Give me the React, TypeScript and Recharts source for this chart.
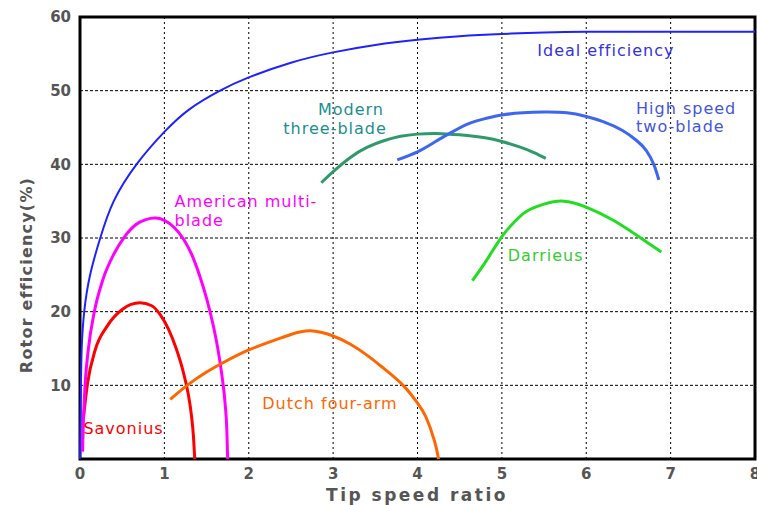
import { LineChart, Line, XAxis, YAxis, CartesianGrid, ReferenceArea, ReferenceDot, Label } from 'recharts'

const X_TICKS = [0, 1, 2, 3, 4, 5, 6, 7, 8]
const Y_TICKS = [10, 20, 30, 40, 50, 60]

const ideal = [
  { x: 0, y: 0 }, { x: 0.01, y: 9 }, { x: 0.02, y: 15 }, { x: 0.05, y: 20 }, { x: 0.12, y: 25 },
  { x: 0.24, y: 30 }, { x: 0.4, y: 35 }, { x: 0.67, y: 40 }, { x: 1, y: 44.4 }, { x: 1.3, y: 47.5 },
  { x: 1.66, y: 50 }, { x: 2, y: 51.8 }, { x: 2.5, y: 53.8 }, { x: 3, y: 55.2 }, { x: 3.5, y: 56.2 },
  { x: 4, y: 56.9 }, { x: 4.5, y: 57.4 }, { x: 5, y: 57.7 }, { x: 5.5, y: 57.9 }, { x: 6, y: 58 },
  { x: 7, y: 58 }, { x: 8, y: 58 },
]

const savonius = [
  { x: 0.04, y: 5.5 }, { x: 0.09, y: 10.3 }, { x: 0.18, y: 14.8 }, { x: 0.32, y: 18 }, { x: 0.5, y: 20.3 },
  { x: 0.71, y: 21.2 }, { x: 0.85, y: 20.8 }, { x: 0.95, y: 19.6 }, { x: 1.05, y: 17.6 }, { x: 1.14, y: 15 },
  { x: 1.22, y: 12 }, { x: 1.28, y: 9 }, { x: 1.32, y: 6 }, { x: 1.345, y: 3 }, { x: 1.36, y: 0 },
]

const americanMultiBlade = [
  { x: 0.03, y: 1 }, { x: 0.04, y: 5 }, { x: 0.06, y: 10 }, { x: 0.1, y: 15 }, { x: 0.17, y: 20 },
  { x: 0.27, y: 24.3 }, { x: 0.4, y: 27.8 }, { x: 0.53, y: 30.2 }, { x: 0.66, y: 31.8 }, { x: 0.78, y: 32.5 },
  { x: 0.89, y: 32.7 }, { x: 1, y: 32.4 }, { x: 1.12, y: 31.4 }, { x: 1.23, y: 29.8 }, { x: 1.33, y: 27.6 },
  { x: 1.42, y: 24.8 }, { x: 1.5, y: 21.8 }, { x: 1.57, y: 18.6 }, { x: 1.63, y: 15.2 }, { x: 1.68, y: 11.5 },
  { x: 1.72, y: 7.5 }, { x: 1.74, y: 4 }, { x: 1.75, y: 0 },
]

const dutchFourArm = [
  { x: 1.07, y: 8.1 }, { x: 1.27, y: 10 }, { x: 1.5, y: 11.8 }, { x: 1.7, y: 13.1 }, { x: 2, y: 14.8 },
  { x: 2.3, y: 16.1 }, { x: 2.5, y: 16.9 }, { x: 2.73, y: 17.4 }, { x: 3, y: 16.7 }, { x: 3.2, y: 15.6 },
  { x: 3.4, y: 14.1 }, { x: 3.6, y: 12.3 }, { x: 3.83, y: 10 }, { x: 4, y: 7.6 }, { x: 4.1, y: 5.7 },
  { x: 4.2, y: 2.5 }, { x: 4.25, y: 0 },
]

const modernThreeBlade = [
  { x: 2.86, y: 37.5 }, { x: 3, y: 39 }, { x: 3.2, y: 40.9 }, { x: 3.4, y: 42.3 }, { x: 3.6, y: 43.2 },
  { x: 3.8, y: 43.8 }, { x: 4, y: 44.1 }, { x: 4.22, y: 44.2 }, { x: 4.5, y: 44 }, { x: 4.8, y: 43.6 },
  { x: 5, y: 43.1 }, { x: 5.2, y: 42.4 }, { x: 5.38, y: 41.6 }, { x: 5.52, y: 40.8 },
]

const highSpeedTwoBlade = [
  { x: 3.76, y: 40.6 }, { x: 4, y: 41.7 }, { x: 4.2, y: 43 }, { x: 4.38, y: 44.2 }, { x: 4.6, y: 45.5 },
  { x: 4.8, y: 46.2 }, { x: 5, y: 46.7 }, { x: 5.25, y: 47 }, { x: 5.5, y: 47.1 }, { x: 5.77, y: 47 },
  { x: 6, y: 46.5 }, { x: 6.2, y: 45.8 }, { x: 6.43, y: 44.6 }, { x: 6.6, y: 43.2 }, { x: 6.71, y: 41.9 },
  { x: 6.8, y: 40 }, { x: 6.86, y: 37.9 },
]

const darrieus = [
  { x: 4.65, y: 24.2 }, { x: 4.82, y: 27 }, { x: 5, y: 30.2 }, { x: 5.15, y: 32.2 }, { x: 5.29, y: 33.6 },
  { x: 5.5, y: 34.6 }, { x: 5.73, y: 35 }, { x: 6, y: 34.2 }, { x: 6.32, y: 32.4 }, { x: 6.62, y: 30.2 },
  { x: 6.89, y: 28.1 },
]

const SERIES = [
  { key: 'ideal', data: ideal, color: '#1f22ff', width: 2, curve: 'natural' },
  { key: 'savonius', data: savonius, color: '#ff0000', width: 3, curve: 'monotone' },
  { key: 'american', data: americanMultiBlade, color: '#ff00ff', width: 3, curve: 'monotone' },
  { key: 'dutch', data: dutchFourArm, color: '#ff6600', width: 3, curve: 'natural' },
  { key: 'modern', data: modernThreeBlade, color: '#2e9a6a', width: 3, curve: 'natural' },
  { key: 'highspeed', data: highSpeedTwoBlade, color: '#3f66ee', width: 3, curve: 'natural' },
  { key: 'darrieus', data: darrieus, color: '#22dd22', width: 3, curve: 'natural' },
]

// curve names, placed in data units (left edge, vertical centre)
const NAMES = [
  { text: 'Ideal efficiency', x: 5.42, y: 55.5, color: '#3333dd' },
  { text: 'Modern', x: 2.82, y: 47.4, color: '#1a8f8f' },
  { text: 'three-blade', x: 2.41, y: 44.8, color: '#1a8f8f' },
  { text: 'High speed', x: 6.59, y: 47.6, color: '#4455dd' },
  { text: 'two-blade', x: 6.59, y: 45.1, color: '#4455dd' },
  { text: 'American multi-', x: 1.12, y: 34.9, color: '#ff00ff' },
  { text: 'blade', x: 1.12, y: 32.4, color: '#ff00ff' },
  { text: 'Darrieus', x: 5.07, y: 27.6, color: '#33cc33' },
  { text: 'Dutch four-arm', x: 2.16, y: 7.55, color: '#ff6600' },
  { text: 'Savonius', x: 0.04, y: 4.1, color: '#ff0000' },
]

const tickStyle = { fill: '#555', fontSize: 15, fontWeight: 'bold', fontFamily: 'DejaVu Sans' }

export default function App() {
  return (
    <div style={{ position: 'absolute', left: 0, top: 0, width: 757, height: 505, background: '#fff' }}>
      <LineChart
        width={757}
        height={505}
        margin={{ top: 17, right: 2, bottom: 0, left: 0 }}
        style={{ fontFamily: 'DejaVu Sans' }}
      >
        <CartesianGrid horizontal={false} stroke="#000" strokeDasharray="2 3" />
        <CartesianGrid vertical={false} stroke="#000" strokeDasharray="3 2" />
        <XAxis
          type="number"
          dataKey="x"
          domain={[0, 8]}
          ticks={X_TICKS}
          interval={0}
          height={46}
          axisLine={false}
          tickLine={false}
          tickSize={8}
          tickMargin={1}
          tick={tickStyle}
        >
          <Label
            content={() => (
              <text
                x={417}
                y={495}
                textAnchor="middle"
                dominantBaseline="central"
                fill="#555"
                fontSize={17}
                fontWeight="bold"
                fontFamily="DejaVu Sans"
                letterSpacing={2.5}
              >
                Tip speed ratio
              </text>
            )}
          />
        </XAxis>
        <YAxis
          type="number"
          domain={[0, 60]}
          ticks={Y_TICKS}
          interval={0}
          width={80}
          axisLine={false}
          tickLine={false}
          tickSize={8}
          tickMargin={1}
          tick={tickStyle}
        >
          <Label
            content={() => (
              <text
                x={26}
                y={275}
                transform="rotate(-90 26 275)"
                textAnchor="middle"
                dominantBaseline="central"
                fill="#555"
                fontSize={16}
                fontWeight="bold"
                fontFamily="DejaVu Sans"
                letterSpacing={1.2}
              >
                Rotor efficiency(%)
              </text>
            )}
          />
        </YAxis>
        <ReferenceArea x1={0} x2={8} y1={0} y2={60} fill="none" stroke="#000" strokeWidth={3} />
        {SERIES.map((s) => (
          <Line
            key={s.key}
            data={s.data}
            dataKey="y"
            type={s.curve as any}
            stroke={s.color}
            strokeWidth={s.width}
            dot={false}
            activeDot={false}
            isAnimationActive={false}
          />
        ))}
        {NAMES.map((n) => (
          <ReferenceDot
            key={n.text}
            x={n.x}
            y={n.y}
            r={0}
            shape={(p: any) => (
              <text
                x={p.cx}
                y={p.cy}
                dominantBaseline="central"
                fill={n.color}
                fontSize={16}
                fontFamily="DejaVu Sans"
                letterSpacing={1}
              >
                {n.text}
              </text>
            )}
          />
        ))}
      </LineChart>
    </div>
  )
}
